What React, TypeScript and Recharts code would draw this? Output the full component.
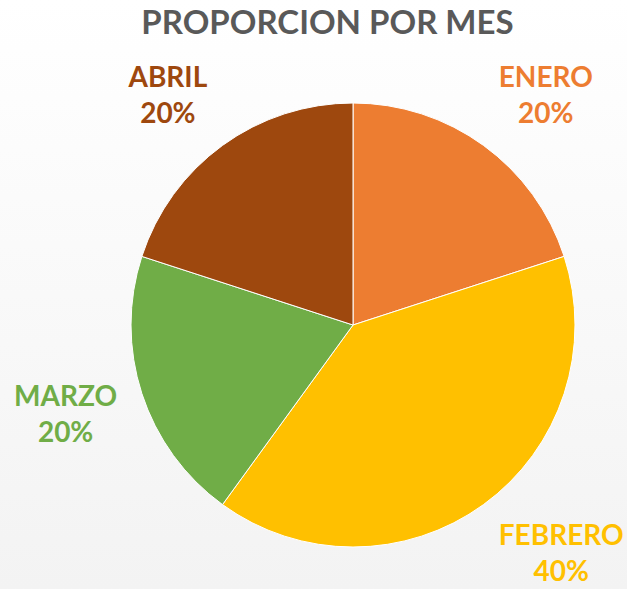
import { PieChart, Pie, Cell } from 'recharts';

const meses = ['ENERO', 'FEBRERO', 'MARZO', 'ABRIL'];
const valores = [20, 40, 20, 20];
const colores = ['#ED7D31', '#FFC000', '#70AD47', '#9E480E'];

const data = meses.map((mes, i) => ({ name: mes, value: valores[i] }));

const RADIAN = Math.PI / 180;
const LABEL_FONT = 'bold 28px Lato';
const ALTO = 589;

// width of a text in the label font, to push the block off the pie like Excel does
const medir = (t: string) => {
  const ctx = document.createElement('canvas').getContext('2d');
  if (!ctx) return t.length * 18;
  ctx.font = LABEL_FONT;
  return ctx.measureText(t).width;
};

const renderLabel = (props: any) => {
  const { cx, cy, midAngle, outerRadius, name, percent, index } = props;
  const cos = Math.cos(-midAngle * RADIAN);
  const sin = Math.sin(-midAngle * RADIAN);
  const r = outerRadius + 26;
  const ax = cx + r * cos;
  const ay = cy + r * sin;
  const pct = `${Math.round(percent * 100)}%`;
  const w = Math.max(medir(name), medir(pct));
  const x = ax + Math.sign(cos) * w / 2;
  // keep the block inside the chart area
  const y = Math.min(ALTO - 37, ay + Math.max(-30, Math.min(30, sin * 37)));
  return (
    <text
      x={x}
      y={y}
      fill={colores[index]}
      textAnchor="middle"
      dominantBaseline="central"
      fontFamily="Lato"
      fontWeight="bold"
      fontSize={28}
    >
      <tspan x={x} y={y - 18}>{name}</tspan>
      <tspan x={x} y={y + 18}>{pct}</tspan>
    </text>
  );
};

export default function App() {
  return (
    <div
      style={{
        position: 'relative',
        width: 627,
        height: ALTO,
        background: 'linear-gradient(#ffffff, #f3f3f3)',
      }}
    >
      <style>{'body{margin:0}'}</style>
      <div
        style={{
          position: 'absolute',
          top: 1,
          left: 28,
          width: 599,
          textAlign: 'center',
          fontFamily: 'Lato, sans-serif',
          fontWeight: 'bold',
          fontSize: 33,
          color: '#595959',
        }}
      >
        PROPORCION POR MES
      </div>
      <PieChart width={627} height={ALTO} margin={{ top: 0, right: 0, bottom: 0, left: 0 }}>
        <Pie
          data={data}
          dataKey="value"
          nameKey="name"
          cx={353}
          cy={325}
          outerRadius={222}
          startAngle={90}
          endAngle={-270}
          stroke="#ffffff"
          strokeWidth={1}
          label={renderLabel}
          labelLine={false}
          isAnimationActive={false}
        >
          {data.map((d, i) => (
            <Cell key={d.name} fill={colores[i]} />
          ))}
        </Pie>
      </PieChart>
    </div>
  );
}
